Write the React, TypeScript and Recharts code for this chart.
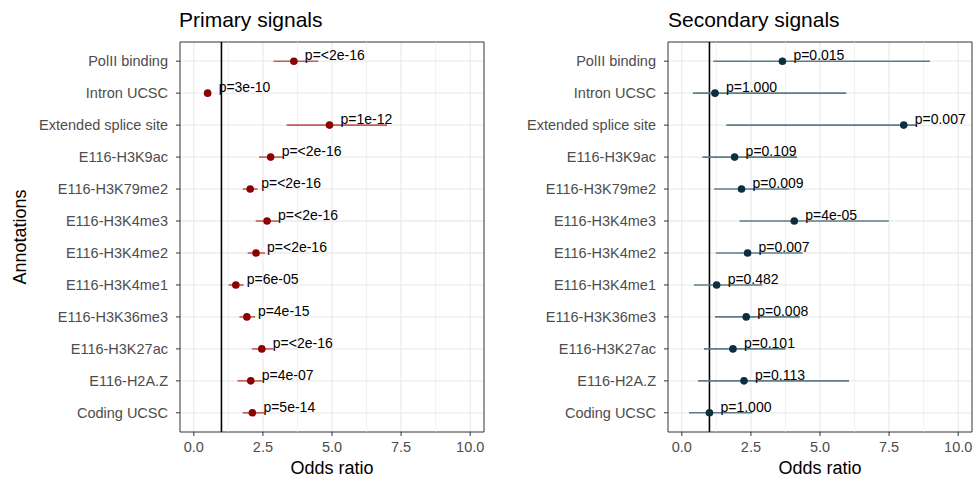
import React from "react";
import {
  ScatterChart, Scatter, XAxis, YAxis, CartesianGrid, ReferenceLine, ReferenceArea, ErrorBar, Label
} from "recharts";

// ── Données ───────────────────────────────────────────────────────────────────
const ANNOTATIONS = [
  "PolII binding", "Intron UCSC", "Extended splice site", "E116-H3K9ac", "E116-H3K79me2",
  "E116-H3K4me3", "E116-H3K4me2", "E116-H3K4me1", "E116-H3K36me3", "E116-H3K27ac",
  "E116-H2A.Z", "Coding UCSC",
];

const PRIMARY_OR = [3.62, 0.5, 4.91, 2.78, 2.04, 2.65, 2.25, 1.52, 1.92, 2.46, 2.06, 2.12];
const PRIMARY_LO = [2.88, 0.45, 3.36, 2.36, 1.77, 2.24, 1.95, 1.26, 1.65, 2.1, 1.58, 1.77];
const PRIMARY_HI = [4.5, 0.55, 6.99, 3.24, 2.31, 3.12, 2.58, 1.8, 2.22, 2.88, 2.48, 2.58];
const PRIMARY_P = ["p=<2e-16", "p=3e-10", "p=1e-12", "p=<2e-16", "p=<2e-16", "p=<2e-16", "p=<2e-16", "p=6e-05", "p=4e-15", "p=<2e-16", "p=4e-07", "p=5e-14"];

const SECONDARY_OR = [3.64, 1.2, 8.03, 1.91, 2.16, 4.07, 2.38, 1.26, 2.33, 1.85, 2.25, 1.0];
const SECONDARY_LO = [1.14, 0.4, 1.61, 0.75, 1.17, 2.09, 1.23, 0.44, 1.2, 0.8, 0.59, 0.26];
const SECONDARY_HI = [8.98, 5.95, 8.5, 4.17, 3.89, 7.49, 4.37, 2.91, 4.27, 3.75, 6.05, 2.55];
const SECONDARY_P = ["p=0.015", "p=1.000", "p=0.007", "p=0.109", "p=0.009", "p=4e-05", "p=0.007", "p=0.482", "p=0.008", "p=0.101", "p=0.113", "p=1.000"];

const X_TICKS = [0, 2.5, 5, 7.5, 10];
const X_MINOR = [1.25, 3.75, 6.25, 8.75];
const Y_TICKS = ANNOTATIONS.map((_, i) => i);

const FONT = "'Liberation Sans', Arial, Helvetica, sans-serif";

function build(or: number[], lo: number[], hi: number[], p: string[]) {
  return or.map((v, i) => ({ idx: i, or: v, err: [v - lo[i], hi[i] - v], p: p[i] }));
}

const primaryData = build(PRIMARY_OR, PRIMARY_LO, PRIMARY_HI, PRIMARY_P);
const secondaryData = build(SECONDARY_OR, SECONDARY_LO, SECONDARY_HI, SECONDARY_P);

// ── Panneau forest plot ──────────────────────────────────────────────────────
function ForestPanel({
  data, pointColor, lineColor, showYTitle,
}: {
  data: Array<{ idx: number; or: number; err: number[]; p: string }>;
  pointColor: string; lineColor: string; showYTitle: boolean;
}) {
  const dot = (props: any) => {
    const { cx, cy, payload } = props;
    return (
      <g>
        <circle cx={cx} cy={cy} r={3.8} fill={pointColor} />
        <text x={cx + 11} y={cy - 1} fontSize={14} fill="#000" fontFamily={FONT}>{payload.p}</text>
      </g>
    );
  };
  return (
    <ScatterChart width={488} height={481} margin={{ top: 42, right: 4, bottom: 0, left: 0 }}>
      <CartesianGrid stroke="#ebebeb" strokeWidth={1.3} horizontalValues={Y_TICKS} verticalValues={X_TICKS} />
      {X_MINOR.map((m) => (
        <ReferenceLine key={m} x={m} stroke="#ebebeb" strokeWidth={0.7} />
      ))}
      <XAxis
        type="number" dataKey="or" domain={[-0.5, 10.5]} ticks={X_TICKS} allowDataOverflow
        tickFormatter={(v: number) => v.toFixed(1)}
        tick={{ fontSize: 14.5, fill: "#4d4d4d", fontFamily: FONT }}
        tickSize={4} tickMargin={6} axisLine={false} tickLine={{ stroke: "#333" }} height={49}
      >
        <Label
          content={(props: any) => {
            const vb = props.viewBox;
            return (
              <text x={vb.x + vb.width / 2} y={vb.y + 42} textAnchor="middle" fontSize={18} fill="#000" fontFamily={FONT}>
                Odds ratio
              </text>
            );
          }}
        />
      </XAxis>
      <YAxis
        type="number" dataKey="idx" domain={[-0.6, 11.6]} ticks={Y_TICKS} reversed allowDataOverflow
        tickFormatter={(v: number) => ANNOTATIONS[v] ?? ""}
        tick={{ fontSize: 14.5, fill: "#4d4d4d", fontFamily: FONT }}
        tickSize={4} tickMargin={8} axisLine={false} tickLine={{ stroke: "#333" }} width={180}
        interval={0}
      >
        {showYTitle && (
          <Label
            content={(props: any) => {
              const vb = props.viewBox;
              const x = vb.x + 21;
              const y = vb.y + vb.height / 2;
              return (
                <text x={x} y={y} transform={`rotate(-90 ${x} ${y})`} textAnchor="middle" dominantBaseline="middle" fontSize={18} fill="#000" fontFamily={FONT}>
                  Annotations
                </text>
              );
            }}
          />
        )}
      </YAxis>
      <ReferenceLine x={1} stroke="#000" strokeWidth={1.6} />
      <Scatter data={data} shape={dot} isAnimationActive={false}>
        <ErrorBar dataKey="err" direction="x" width={0} stroke={lineColor} strokeWidth={1.6} />
      </Scatter>
      <ReferenceArea x1={-0.5} x2={10.5} y1={-0.6} y2={11.6} fill="none" stroke="#333" strokeWidth={1} ifOverflow="visible" />
    </ScatterChart>
  );
}

export default function App() {
  return (
    <div style={{ position: "absolute", left: 0, top: 0, width: 976, height: 481, background: "#fff", fontFamily: FONT }}>
      <div style={{ position: "absolute", left: 179, top: 8, fontSize: 21, lineHeight: "24px", color: "#000" }}>Primary signals</div>
      <div style={{ position: "absolute", left: 668, top: 8, fontSize: 21, lineHeight: "24px", color: "#000" }}>Secondary signals</div>
      <div style={{ position: "absolute", left: 0, top: 0 }}>
        <ForestPanel data={primaryData} pointColor="#8b0000" lineColor="#c45a5a" showYTitle />
      </div>
      <div style={{ position: "absolute", left: 488, top: 0 }}>
        <ForestPanel data={secondaryData} pointColor="#0b2f3d" lineColor="#5e7c88" showYTitle={false} />
      </div>
    </div>
  );
}
